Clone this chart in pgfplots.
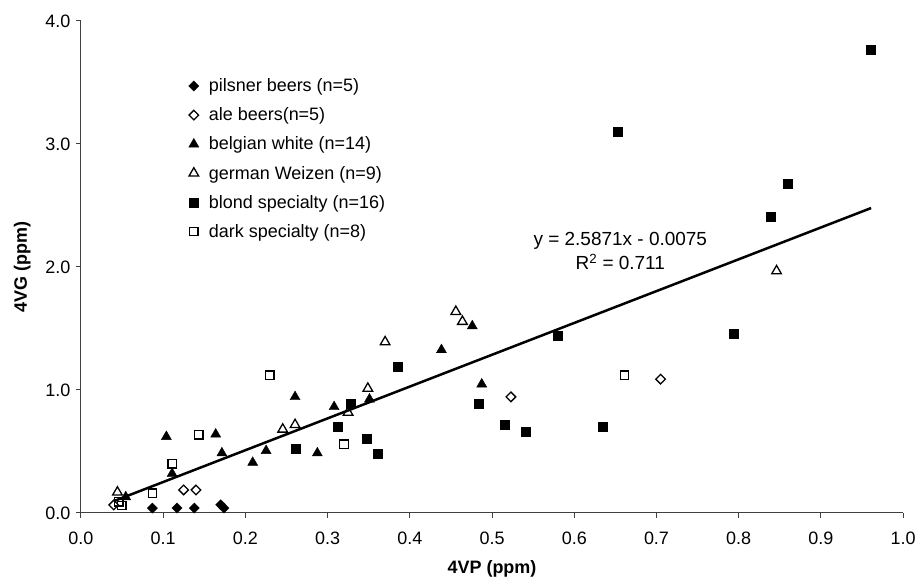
\documentclass[border=0pt]{standalone}
\usepackage{fontspec}
\setmainfont{Liberation Sans}
\usepackage{pgfplots}
\pgfplotsset{compat=1.18}

\begin{document}
\begin{tikzpicture}
\begin{axis}[
    name=ax,
    scale only axis,
    width=824pt, height=493pt,
    xmin=0, xmax=1, ymin=0, ymax=4,
    axis lines=left,
    axis line style={-, black!75, line width=1pt},
    tick style={black!75, line width=1pt},
    tick align=outside,
    major tick length=5pt,
    xtick={0,0.1,...,1.0},
    ytick={0,1,2,3,4},
    /pgf/number format/fixed,
    /pgf/number format/fixed zerofill,
    /pgf/number format/precision=1,
    /pgf/number format/assume math mode=true,
    ticklabel style={font=\fontsize{18}{20}\selectfont},
    xticklabel style={yshift=-10pt},
    yticklabel style={xshift=-2pt},
    xlabel={\textbf{4VP (ppm)}},
    ylabel={\textbf{4VG (ppm)}},
    xlabel style={yshift=-9pt},
    ylabel style={yshift=8pt},
    label style={font=\fontsize{18}{20}\selectfont},
    legend style={at={(0.131,0.887)}, anchor=north west, draw=none, fill=none,
        font=\fontsize{18}{20}\selectfont, row sep=10.6pt, inner sep=0pt,
        /tikz/every odd column/.append style={column sep=8pt}},
    legend cell align=left,
]
% pilsner beers
\addplot[only marks, mark=square*, mark size=3.6pt, mark options={rotate=45, fill=black}]
    coordinates {(0.087,0.04)(0.117,0.04)(0.138,0.04)(0.170,0.067)(0.174,0.04)};
\addlegendentry{pilsner beers (n=5)}
% ale beers
\addplot[only marks, mark=square, mark size=3.4pt, mark options={rotate=45, line width=1.3pt, fill=white}]
    coordinates {(0.040,0.065)(0.125,0.187)(0.140,0.187)(0.523,0.944)(0.705,1.088)};
\addlegendentry{ale beers(n=5)}
% belgian white
\addplot[only marks, mark=triangle*, mark size=5.8pt, mark options={fill=black}]
    coordinates {(0.0546,0.13)(0.104,0.62)(0.111,0.32)(0.164,0.64)(0.1715,0.487)
    (0.209,0.41)(0.2253,0.506)(0.2605,0.944)(0.2876,0.487)(0.308,0.863)
    (0.351,0.925)(0.4385,1.326)(0.476,1.52)(0.4875,1.047)};
\addlegendentry{belgian white (n=14)}
% german Weizen
\addplot[only marks, mark=triangle, mark size=5.6pt, mark options={line width=1.3pt, fill=white}]
    coordinates {(0.0445,0.168)(0.2455,0.68)(0.2605,0.717)(0.325,0.817)(0.349,1.012)
    (0.370,1.39)(0.456,1.637)(0.464,1.556)(0.846,1.967)};
\addlegendentry{german Weizen (n=9)}
% blond specialty
\addplot[only marks, mark=square*, mark size=4.5pt, mark options={fill=black}]
    coordinates {(0.2613,0.52)(0.312,0.70)(0.328,0.885)(0.3475,0.60)(0.361,0.484)
    (0.385,1.19)(0.484,0.885)(0.516,0.714)(0.541,0.663)(0.580,1.44)(0.635,0.70)
    (0.653,3.098)(0.794,1.461)(0.839,2.405)(0.860,2.68)(0.961,3.766)};
\addlegendentry{blond specialty (n=16)}
% dark specialty
\addplot[only marks, mark=square, mark size=4.2pt, mark options={line width=1.3pt, fill=white}]
    coordinates {(0.046,0.09)(0.050,0.06)(0.087,0.162)(0.111,0.40)(0.1436,0.636)
    (0.2298,1.12)(0.32,0.56)(0.661,1.12)};
\addlegendentry{dark specialty (n=8)}
% linear trend
\addplot[black, line width=2.5pt, forget plot] coordinates {(0.04,0.096)(0.961,2.479)};
\node[align=center, font=\fontsize{19}{25}\selectfont] at (axis cs:0.656,2.13)
    {y = 2.5871x - 0.0075\\R\textsuperscript{2} = 0.711};
\end{axis}
\path ([xshift=-81pt,yshift=-63pt]ax.south west) rectangle ([xshift=14pt,yshift=21pt]ax.north east);
\end{tikzpicture}
\end{document}
